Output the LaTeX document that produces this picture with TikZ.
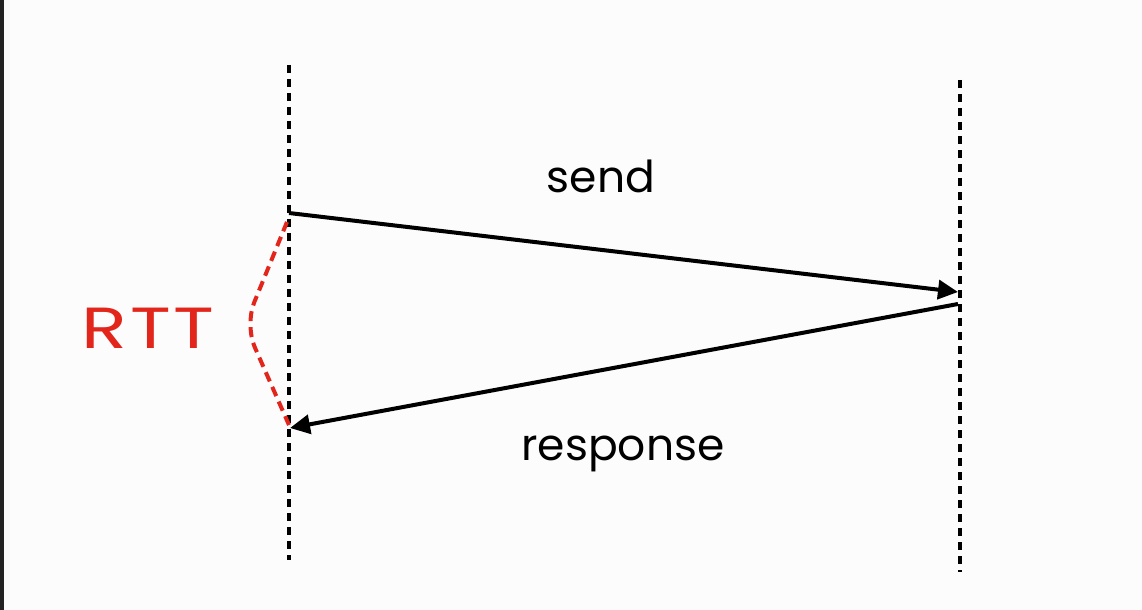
\documentclass[tikz,border=0pt]{standalone}
\usepackage{fontspec}
\setmainfont{Poppins}
\usetikzlibrary{arrows.meta}
\definecolor{rttred}{HTML}{E3261B}
\definecolor{edgegray}{HTML}{222222}

\begin{document}
\begin{tikzpicture}[x=0.5pt,y=-0.5pt, every node/.style={font=\fontsize{22}{26}\selectfont,inner sep=0pt},
  life/.style={line width=2.2pt,dash pattern=on 4pt off 3pt},
  msg/.style={line width=2pt,-{Triangle[length=10pt,width=9.5pt]}}]
 \useasboundingbox (0,0) rectangle (1142,610);
 \fill[white!99!black] (0,0) rectangle (1142,610);
 \fill[edgegray] (0,0) rectangle (4,610);
 % lifelines
 \coordinate (c1) at (289,65);  \coordinate (c2) at (289,560);
 \coordinate (s1) at (960,80);  \coordinate (s2) at (960,572);
 \draw[life] (c1) -- (c2);
 \draw[life] (s1) -- (s2);
 % messages
 \coordinate (sendA) at (289,213); \coordinate (sendB) at (958,292);
 \coordinate (respA) at (958,304); \coordinate (respB) at (290,428);
 \draw[msg] (sendA) -- (sendB);
 \draw[msg] (respA) -- (respB);
 \node (send) at (601,176) {send};
 \node (resp) at (623,454) {response};
 % round trip
 \coordinate (rttTop) at (287,222); \coordinate (rttTip) at (245,325); \coordinate (rttEnd) at (289,425);
 \draw[rttred,line width=2pt,dash pattern=on 5pt off 3pt,rounded corners=12pt] (rttTop) -- (rttTip) -- (rttEnd);
 \node[text=rttred,font=\fontsize{29}{32}\selectfont\addfontfeature{FakeStretch=1.3,LetterSpace=4}] (rtt) at (148,328) {RTT};
\end{tikzpicture}
\end{document}
